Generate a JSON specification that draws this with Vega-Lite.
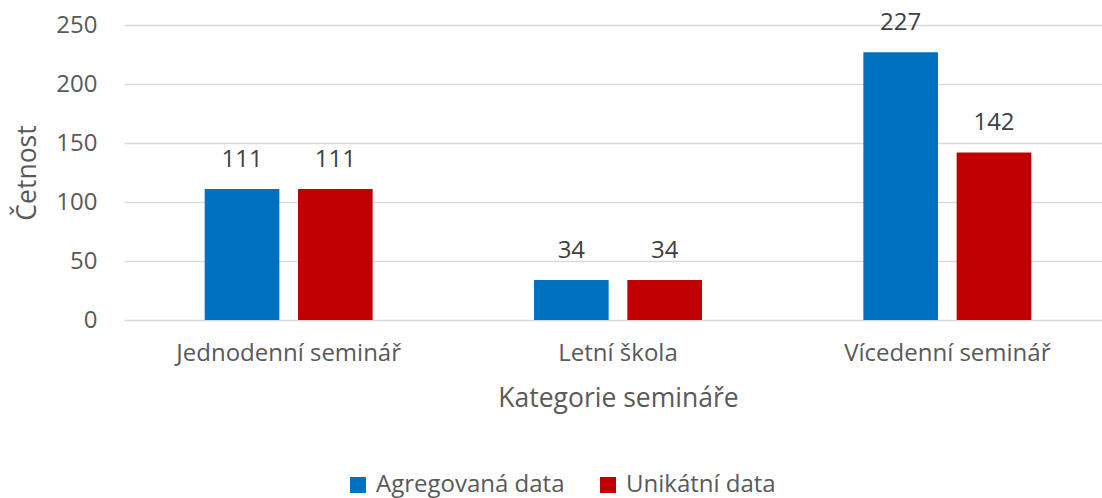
{
  "$schema": "https://vega.github.io/schema/vega-lite/v6.json",
  "autosize": "none",
  "width": 977,
  "height": 295,
  "padding": {"left": 124, "top": 25, "right": 1, "bottom": 178},
  "background": "white",
  "config": {
    "font": "Open Sans",
    "view": {"stroke": null}
  },
  "data": {
    "values": [
      {"kategorie": "Jednodenní seminář", "serie": "Agregovaná data", "pocet": 111},
      {"kategorie": "Jednodenní seminář", "serie": "Unikátní data", "pocet": 111},
      {"kategorie": "Letní škola", "serie": "Agregovaná data", "pocet": 34},
      {"kategorie": "Letní škola", "serie": "Unikátní data", "pocet": 34},
      {"kategorie": "Vícedenní seminář", "serie": "Agregovaná data", "pocet": 227},
      {"kategorie": "Vícedenní seminář", "serie": "Unikátní data", "pocet": 142}
    ]
  },
  "encoding": {
    "x": {
      "field": "kategorie", "type": "nominal", "sort": null,
      "scale": {"paddingInner": 0.49, "paddingOuter": 0.245, "range": [0, 988]},
      "axis": {
        "title": "Kategorie semináře", "labelAngle": 0, "labelFontSize": 24, "labelColor": "#595959",
        "labelPadding": 21, "labelLimit": 0, "ticks": false, "domain": false,
        "titleFontSize": 26.5, "titleColor": "#595959", "titleFontWeight": "normal", "titlePadding": 20
      }
    },
    "xOffset": {"field": "serie", "type": "nominal", "scale": {"paddingInner": 0.2}},
    "y": {
      "field": "pocet", "type": "quantitative",
      "scale": {"domain": [0, 250]},
      "axis": {
        "title": "Četnost", "values": [0, 50, 100, 150, 200, 250], "labelFontSize": 24, "labelColor": "#595959",
        "labelPadding": 27, "ticks": false, "domain": false, "gridColor": "#D9D9D9", "gridWidth": 1.5,
        "titleFontSize": 26.5, "titleColor": "#595959", "titleFontWeight": "normal", "titlePadding": 14
      }
    }
  },
  "layer": [
    {
      "mark": {"type": "bar"},
      "encoding": {
        "color": {
          "field": "serie", "type": "nominal",
          "scale": {"domain": ["Agregovaná data", "Unikátní data"], "range": ["#0070C0", "#C00000"]},
          "legend": {
            "title": null, "orient": "none", "direction": "horizontal", "legendX": 222, "legendY": 448,
            "symbolType": "square", "symbolSize": 256, "symbolStrokeWidth": 0, "symbolOpacity": 1,
            "labelFontSize": 24, "labelColor": "#595959", "labelOffset": 6, "labelLimit": 0, "columnPadding": 31
          }
        }
      }
    },
    {
      "mark": {"type": "text", "baseline": "alphabetic", "dy": -22, "fontSize": 24, "color": "#404040"},
      "encoding": {"text": {"field": "pocet", "type": "quantitative"}}
    }
  ]
}
